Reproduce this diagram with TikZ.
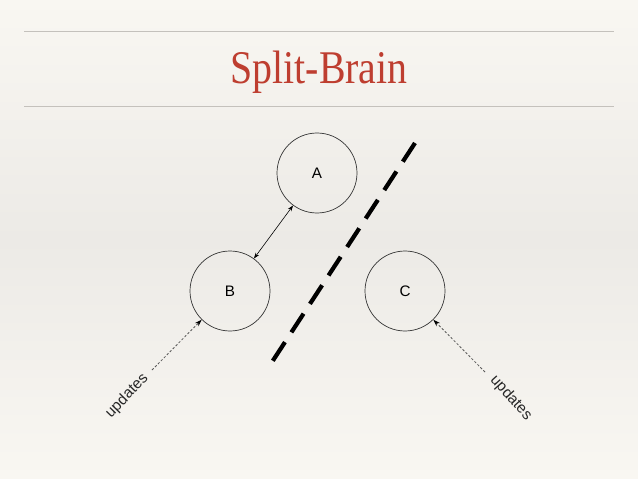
\documentclass[tikz,border=0pt]{standalone}
\usepackage{fontspec}
\setsansfont{Liberation Sans}
\newfontfamily\titlefont{Liberation Serif}
\usetikzlibrary{arrows.meta,calc}
\definecolor{TitleClr}{RGB}{190,62,48}
\definecolor{RuleClr}{RGB}{196,193,188}
\definecolor{PaperTop}{RGB}{249,247,242}
\definecolor{PaperMid}{RGB}{236,234,230}

\tikzset{
  site/.style={circle,draw=black!80,line width=0.6pt,minimum size=80*0.03cm,
    inner sep=0pt,font=\sffamily\fontsize{13}{13}\selectfont},
  link/.style={line width=0.5pt,{Stealth[length=5pt,width=3.5pt]}-{Stealth[length=5pt,width=3.5pt]}},
  feed/.style={line width=0.7pt,black!65,dash pattern=on 2pt off 1.6pt,
    -{Stealth[length=6pt,width=4pt,black]}},
  cut/.style={line width=3.6pt,dash pattern=on 19pt off 10pt},
  tag/.style={font=\sffamily\fontsize{13}{13}\selectfont,text=black!85}
}

\begin{document}
\begin{tikzpicture}[x=0.03cm,y=-0.03cm]

\useasboundingbox (0,0) rectangle (638,479);
\shade[top color=PaperTop,bottom color=PaperTop,middle color=PaperMid] (0,0) rectangle (638,479);

% title and rules
\draw[RuleClr,line width=0.6pt] (24,31) -- (614,31);
\draw[RuleClr,line width=0.6pt] (24,106) -- (614,106);
\node[text=TitleClr,xscale=0.85,anchor=base,inner sep=0pt] (title) at (319,83)
  {\titlefont\fontsize{40}{40}\selectfont Split-Brain};

% nodes
\node[site] (A) at (317,173) {A};
\node[site] (B) at (230,291) {B};
\node[site] (C) at (405,291) {C};

\draw[link] (A) -- (B);

% partition
\coordinate (P1) at (415,143);
\coordinate (P2) at (272,362);
\draw[cut] (P1) -- (P2);

% client updates
\coordinate (uB) at (152,370);
\coordinate (uC) at (485,372);
\draw[feed] (uB) -- (B);
\draw[feed] (uC) -- (C);

\node[tag,rotate=46] (tB) at (127,396) {updates};
\node[tag,rotate=-48] (tC) at (511,398) {updates};

\end{tikzpicture}
\end{document}
